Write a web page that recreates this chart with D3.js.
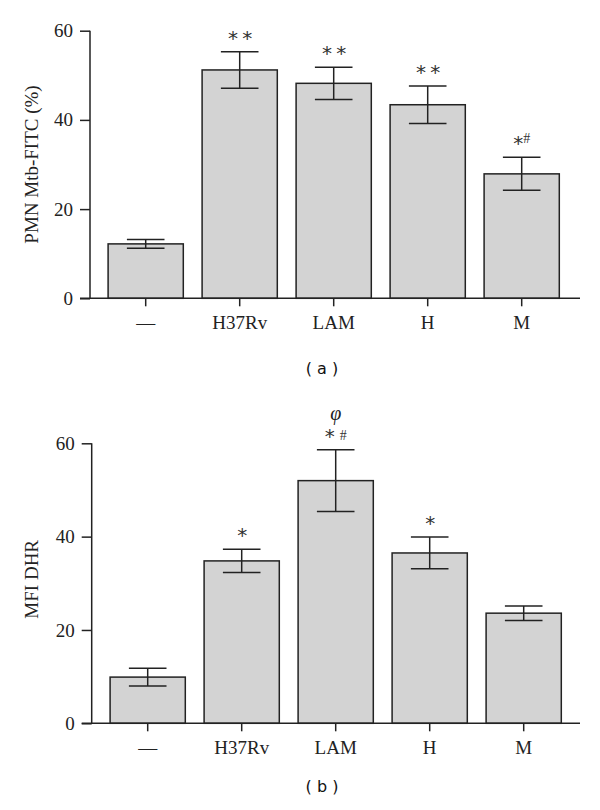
<!DOCTYPE html>
<html><head><meta charset="utf-8">
<script src="https://cdn.jsdelivr.net/npm/d3@7"></script>
<style>body{margin:0;background:#fff}</style>
</head><body>
<svg id="c" width="600" height="810"></svg>
<script>
const categories = ["—", "H37Rv", "LAM", "H", "M"];
const valuesA = [12.2, 51.2, 48.2, 43.4, 27.9];
const errorsA = [1.0, 4.1, 3.6, 4.2, 3.7];
const marksA = ["", "**", "**", "**", "*#"];
const valuesB = [9.9, 34.8, 52.0, 36.5, 23.6];
const errorsB = [1.9, 2.5, 6.6, 3.4, 1.55];
const marksB = ["", "*", "*#", "*", ""];
const topMarksB = ["", "", "φ", "", ""];
const yTicks = [0, 20, 40, 60];

const svg = d3.select("#c");
const ink = "#222";
const serif = "'Liberation Serif', 'Times New Roman', Times, serif";

function panel(cfg) {
  const g = svg.append("g");
  const x = d3.scaleBand().domain(categories).range([cfg.x0, cfg.x1]).paddingInner(0.2).paddingOuter(0.1);
  const y = d3.scaleLinear().domain([0, 60]).range([cfg.yb, cfg.yt]);
  g.selectAll("rect.bar").data(cfg.values).join("rect")
    .attr("x", (d, i) => x(categories[i]))
    .attr("y", d => y(d))
    .attr("width", x.bandwidth())
    .attr("height", d => y(0) - y(d))
    .attr("fill", "#d3d3d3").attr("stroke", ink).attr("stroke-width", 1.5);
  const cw = x.bandwidth() / 4;
  cfg.values.forEach((v, i) => {
    const cx = x(categories[i]) + x.bandwidth() / 2;
    const e = cfg.errors[i];
    const eg = g.append("g").attr("stroke", ink).attr("stroke-width", 1.5);
    eg.append("line").attr("x1", cx).attr("x2", cx).attr("y1", y(v + e)).attr("y2", y(v - e));
    eg.append("line").attr("x1", cx - cw).attr("x2", cx + cw).attr("y1", y(v + e)).attr("y2", y(v + e));
    eg.append("line").attr("x1", cx - cw).attr("x2", cx + cw).attr("y1", y(v - e)).attr("y2", y(v - e));
    const m = cfg.marks[i];
    if (m) {
      const t = g.append("text").attr("x", cx).attr("y", y(v + e) - 7)
        .attr("text-anchor", "middle").attr("fill", "#333")
        .attr("font-family", "DejaVu Sans").attr("font-size", 20);
      if (m.includes("#")) {
        t.append("tspan").text("*");
        t.append("tspan").text("#").attr("font-size", 14)
          .attr("font-family", serif).attr("dx", cfg.hashGap ? 5 : 0).attr("dy", cfg.hashGap ? -3 : -7);
      } else {
        t.text(m.split("").join(" ")).attr("letter-spacing", -1);
      }
    }
    if (cfg.top && cfg.top[i]) {
      g.append("text").attr("x", cx).attr("y", y(v + e) - 30)
        .attr("text-anchor", "middle").attr("fill", "#222")
        .attr("font-family", serif).attr("font-style", "italic").attr("font-size", 20)
        .text(cfg.top[i]);
    }
  });
  const ya = g.append("g").attr("transform", `translate(${cfg.yx},0)`)
    .call(d3.axisLeft(y).tickValues(yTicks).tickSize(10).tickPadding(7));
  ya.select(".domain").attr("d", `M0,${y(0)}V${y(60)}`);
  const xa = g.append("g").attr("transform", `translate(0,${y(0)})`)
    .call(d3.axisBottom(x).tickSize(8).tickPadding(9));
  xa.select(".domain").attr("d", `M${cfg.yx - 10},0H580`);
  [ya, xa].forEach(a => {
    a.attr("font-family", serif).attr("font-size", 19);
    a.selectAll("path,line").attr("stroke", ink).attr("stroke-width", 1.5);
    a.selectAll("text").attr("font-family", serif).attr("font-size", 19).attr("fill", "#222");
  });
  g.append("text").attr("transform", `translate(38,${(y(0) + y(60)) / 2 + cfg.titleShift}) rotate(-90)`)
    .attr("text-anchor", "middle").attr("font-family", serif).attr("font-size", 19).attr("fill", "#222")
    .text(cfg.title);
  g.append("text").attr("x", 322).attr("y", cfg.labelY).attr("text-anchor", "middle")
    .attr("font-family", "DejaVu Sans").attr("font-size", 16).attr("fill", "#111")
    .text(cfg.label);
}

panel({x0: 98.7, x1: 568.7, yx: 90, yt: 30.7, yb: 298.3, values: valuesA, errors: errorsA, marks: marksA,
  title: "PMN Mtb-FITC (%)", titleShift: 0, label: "( a )", labelY: 374, hashGap: false});
panel({x0: 100.7, x1: 570.7, yx: 91.7, yt: 443.3, yb: 723.3, values: valuesB, errors: errorsB, marks: marksB, top: topMarksB,
  title: "MFI DHR", titleShift: -4, label: "( b )", labelY: 792, hashGap: true});
</script>
</body></html>
